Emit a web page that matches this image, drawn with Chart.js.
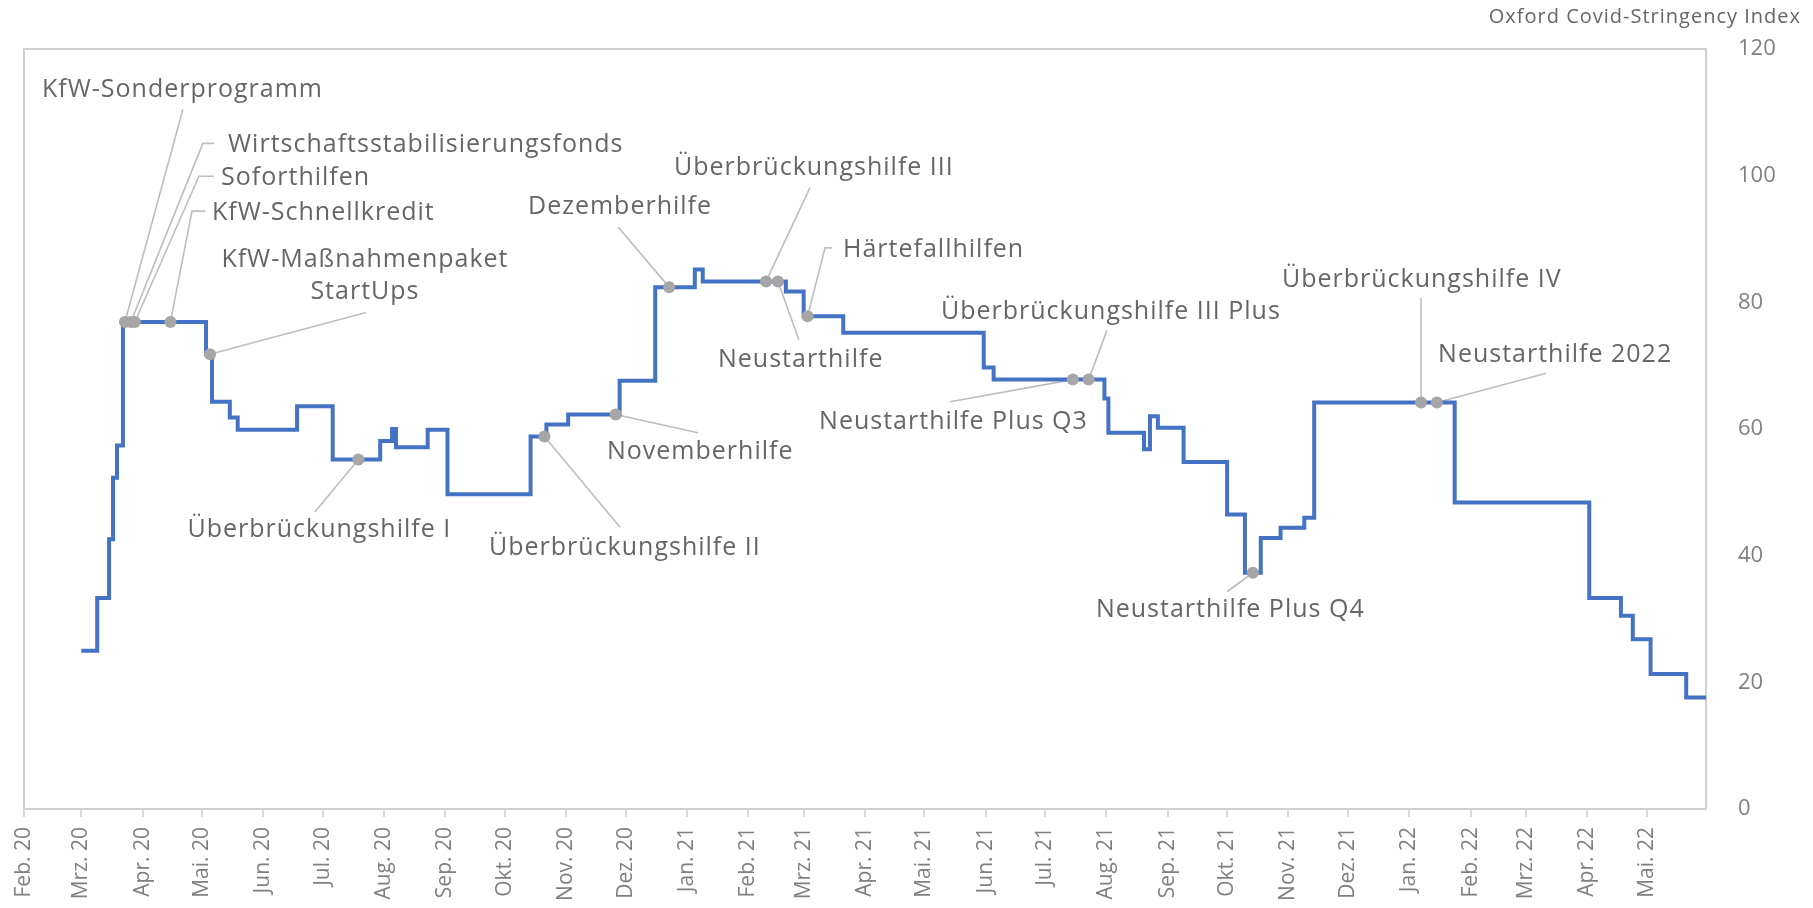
<!DOCTYPE html>
<html>
<head>
<meta charset="utf-8">
<script src="https://cdn.jsdelivr.net/npm/chart.js@4.4.1/dist/chart.umd.min.js"></script>
<style>
  html, body { margin: 0; padding: 0; background: #fff; }
  canvas { display: block; }
</style>
</head>
<body>
<canvas id="stringencyChart" width="1813" height="908"></canvas>
<script>
// Oxford Covid-Stringency Index with the German support programmes

const startDate = '2020-02-01';
const endDate = '2022-05-31';

const tickLabels = [
  'Feb. 20', 'Mrz. 20', 'Apr. 20', 'Mai. 20', 'Jun. 20', 'Jul. 20', 'Aug. 20',
  'Sep. 20', 'Okt. 20', 'Nov. 20', 'Dez. 20', 'Jan. 21', 'Feb. 21', 'Mrz. 21',
  'Apr. 21', 'Mai. 21', 'Jun. 21', 'Jul. 21', 'Aug. 21', 'Sep. 21', 'Okt. 21',
  'Nov. 21', 'Dez. 21', 'Jan. 22', 'Feb. 22', 'Mrz. 22', 'Apr. 22', 'Mai. 22'
];

// index changes: date from which the new value holds
const stepDates = [
  '2020-03-01', '2020-03-09', '2020-03-15', '2020-03-17', '2020-03-19', '2020-03-22',
  '2020-05-03', '2020-05-06', '2020-05-15', '2020-05-19', '2020-06-18', '2020-07-06',
  '2020-07-30', '2020-08-05', '2020-08-07', '2020-08-23', '2020-09-02', '2020-10-14',
  '2020-10-22', '2020-11-02', '2020-11-28', '2020-12-16', '2021-01-05', '2021-01-09',
  '2021-02-20', '2021-03-01', '2021-03-21', '2021-05-31', '2021-06-05', '2021-07-31',
  '2021-08-02', '2021-08-20', '2021-08-23', '2021-08-27', '2021-09-09', '2021-10-01',
  '2021-10-10', '2021-10-18', '2021-10-28', '2021-11-09', '2021-11-14', '2022-01-24',
  '2022-04-02', '2022-04-18', '2022-04-24', '2022-05-03', '2022-05-21', '2022-05-31'
];
const stepValues = [
  25.0, 33.3, 42.6, 52.3, 57.4, 76.9,
  71.8, 64.3, 61.8, 59.9, 63.6, 55.2,
  58.1, 60.0, 57.1, 59.9, 49.7, 58.8,
  60.7, 62.3, 67.6, 82.4, 85.2, 83.3,
  81.7, 77.8, 75.2, 69.7, 67.8, 64.8,
  59.4, 56.8, 62.0, 60.2, 54.8, 46.5,
  37.3, 42.8, 44.4, 46.0, 64.2, 48.4,
  33.3, 30.5, 26.8, 21.3, 17.6, 17.6
];

const eventNames = [
  'KfW-Sonderprogramm', 'Wirtschaftsstabilisierungsfonds', 'Soforthilfen', 'KfW-Schnellkredit',
  'KfW-Maßnahmenpaket\nStartUps', 'Überbrückungshilfe I', 'Überbrückungshilfe II', 'Novemberhilfe',
  'Dezemberhilfe', 'Überbrückungshilfe III', 'Neustarthilfe', 'Härtefallhilfen',
  'Überbrückungshilfe III Plus', 'Neustarthilfe Plus Q3', 'Neustarthilfe Plus Q4',
  'Überbrückungshilfe IV', 'Neustarthilfe 2022'
];
const eventDates = [
  '2020-03-23', '2020-03-26', '2020-03-28', '2020-04-15',
  '2020-05-05', '2020-07-19', '2020-10-21', '2020-11-26',
  '2020-12-23', '2021-02-10', '2021-02-16', '2021-03-03',
  '2021-07-23', '2021-07-15', '2021-10-14',
  '2022-01-07', '2022-01-15'
];

// callout layout in axis units [days since start, index value]
const calloutAnchor = [
  [9.1, 113.5, 'left'], [103.1, 104.8, 'left'], [99.6, 99.6, 'left'], [95, 94.1, 'left'],
  [172.3, 86.7, 'center'], [82.6, 44.1, 'left'], [235, 41.2, 'left'], [294.6, 56.4, 'left'],
  [254.7, 95.1, 'left'], [328.5, 101.2, 'left'], [350.7, 70.9, 'left'], [413.9, 88.3, 'left'],
  [463.4, 78.5, 'left'], [401.8, 61.1, 'left'], [541.7, 31.4, 'left'],
  [635.7, 83.5, 'left'], [714.6, 71.7, 'left']
];
const calloutLeader = [
  [[80.3, 110.5]], [[96, 105.1], [90.4, 105.1]], [[96, 99.9], [88.4, 99.9]], [[91.5, 94.4], [84.9, 94.4]],
  [[172.8, 78.4]], [[147, 46.9]], [[301.2, 44.5]], [[340.6, 59.4]],
  [[300.2, 91.9]], [[397.2, 98.1]], [[391.6, 74.1]], [[408.3, 88.6], [404.8, 88.6]],
  [[547.3, 75.6]], [[468, 64.3]], [[608, 34.3]],
  [[706, 80.7]], [[769.2, 68.8]]
];

const DAY = 864e5;
const dayOf = d => (Date.parse(d) - Date.parse(startDate)) / DAY;
const valueAt = d => {
  let v = stepValues[0];
  stepDates.forEach((s, i) => { if (dayOf(s) <= dayOf(d)) v = stepValues[i]; });
  return v;
};
const tickDays = tickLabels.map((_, i) => (Date.UTC(2020, 1 + i, 1) - Date.parse(startDate)) / DAY);

const FONT = "'Open Sans', 'DejaVu Sans', sans-serif";

const calloutPlugin = {
  id: 'callouts',
  beforeDatasetsDraw(chart) {
    const { ctx, chartArea: a, scales: { x, y } } = chart;
    ctx.save();
    ctx.strokeStyle = '#d0d0d0';
    ctx.lineWidth = 2;
    ctx.strokeRect(a.left, a.top, a.right - a.left, a.bottom - a.top);

    ctx.strokeStyle = '#bdbdbd';
    ctx.lineWidth = 1.6;
    eventDates.forEach((d, i) => {
      const pts = calloutLeader[i].map(p => [x.getPixelForValue(p[0]), y.getPixelForValue(p[1])]);
      pts.push([x.getPixelForValue(dayOf(d)), y.getPixelForValue(valueAt(d))]);
      ctx.beginPath();
      ctx.moveTo(pts[0][0], pts[0][1]);
      pts.slice(1).forEach(p => ctx.lineTo(p[0], p[1]));
      ctx.stroke();
    });
    ctx.restore();
  },
  afterDatasetsDraw(chart) {
    const { ctx, scales: { x, y } } = chart;
    ctx.save();
    if ('letterSpacing' in ctx) ctx.letterSpacing = '1px';
    ctx.fillStyle = '#666666';
    ctx.textBaseline = 'middle';
    ctx.font = '25px ' + FONT;
    eventNames.forEach((name, i) => {
      const [dx, v, align] = calloutAnchor[i];
      ctx.textAlign = align;
      const px = x.getPixelForValue(dx);
      const py = y.getPixelForValue(v);
      name.split('\n').forEach((line, k) => ctx.fillText(line, px, py + k * 32));
    });

    // axis title, top right
    ctx.font = '20px ' + FONT;
    ctx.textAlign = 'right';
    ctx.fillText('Oxford Covid-Stringency Index', chart.width - 12, 17);
    ctx.restore();
  }
};

const ctx = document.getElementById('stringencyChart').getContext('2d');
const stringencyChart = new Chart(ctx, {
  type: 'line',
  data: {
    datasets: [
      {
        label: 'Programme',
        data: eventDates.map(d => ({ x: dayOf(d), y: valueAt(d) })),
        showLine: false,
        pointRadius: 6,
        pointBackgroundColor: '#a6a6a6',
        pointBorderColor: '#a6a6a6',
        pointBorderWidth: 0,
        order: 0
      },
      {
        label: 'Oxford Covid-Stringency Index',
        data: stepDates.map((d, i) => ({ x: dayOf(d), y: stepValues[i] })),
        stepped: true,
        borderColor: '#4472c4',
        borderWidth: 4,
        pointRadius: 0,
        fill: false,
        order: 1
      }
    ]
  },
  options: {
    responsive: false,
    animation: false,
    layout: { padding: { left: 24, top: 49, right: 0, bottom: 0 } },
    plugins: {
      legend: { display: false },
      tooltip: { enabled: false }
    },
    scales: {
      x: {
        type: 'linear',
        min: 0,
        max: dayOf(endDate),
        grid: { drawOnChartArea: false, drawTicks: true, tickLength: 8, color: '#d9d9d9', lineWidth: 2 },
        border: { display: false },
        afterBuildTicks: axis => { axis.ticks = tickDays.map(v => ({ value: v })); },
        afterFit: axis => { axis.height = 99; },
        ticks: {
          autoSkip: false,
          minRotation: 90,
          maxRotation: 90,
          padding: 10,
          color: '#808080',
          font: { family: FONT, size: 21 },
          callback: (v, i) => tickLabels[i]
        }
      },
      y: {
        position: 'right',
        min: 0,
        max: 120,
        grid: { display: false, drawTicks: false },
        border: { display: false },
        afterFit: axis => { axis.width = 107; },
        ticks: {
          stepSize: 20,
          padding: 32,
          color: '#808080',
          font: { family: FONT, size: 22 }
        }
      }
    }
  },
  plugins: [calloutPlugin]
});
</script>
</body>
</html>
